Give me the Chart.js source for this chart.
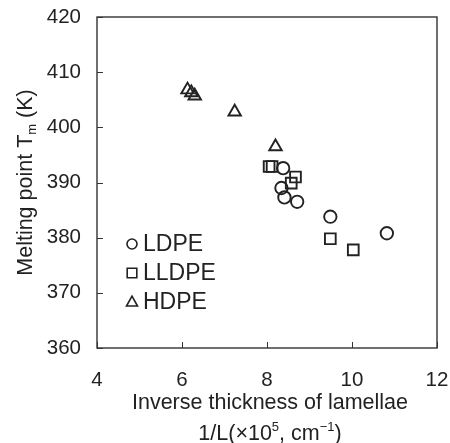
<!DOCTYPE html>
<html>
<head>
<meta charset="utf-8">
<script src="https://cdn.jsdelivr.net/npm/chart.js@4/dist/chart.umd.min.js"></script>
<style>
  html, body { margin: 0; padding: 0; background: #fff; }
  #wrap { width: 450px; height: 443px; }
</style>
</head>
<body>
<div id="wrap"><canvas id="mp-chart" width="450" height="443"></canvas></div>
<script>
// Melting point vs inverse lamellar thickness
const ldpeX = [8.38, 8.34, 8.41, 8.71, 9.49, 10.82];
const ldpeY = [392.6, 389.0, 387.3, 386.5, 383.8, 380.8];

const lldpeX = [8.05, 8.12, 8.57, 8.67, 9.49, 10.03];
const lldpeY = [392.9, 392.9, 389.9, 391.0, 379.8, 377.8];

const hdpeX = [6.13, 6.22, 6.30, 7.24, 8.20];
const hdpeY = [406.8, 406.3, 405.7, 402.8, 396.5];

const seriesNames = ["LDPE", "LLDPE", "HDPE"];
const xTicks = [4, 6, 8, 10, 12];
const yTicks = [360, 370, 380, 390, 400, 410, 420];

const ink = "#222";
const fam = "'Liberation Sans', Arial, sans-serif";

function toPoints(xs, ys) {
  return xs.map((x, i) => ({ x: x, y: ys[i] }));
}

const markerStyle = {
  backgroundColor: "rgba(255,255,255,0)",
  borderColor: ink,
  borderWidth: 1.9,
};

const mpData = {
  datasets: [
    { label: seriesNames[0], data: toPoints(ldpeX, ldpeY), pointStyle: "circle", pointRadius: 6.2, ...markerStyle },
    { label: seriesNames[1], data: toPoints(lldpeX, lldpeY), pointStyle: "rect", pointRadius: 7.6, ...markerStyle },
    { label: seriesNames[2], data: toPoints(hdpeX, hdpeY), pointStyle: "triangle", pointRadius: 7.2, ...markerStyle },
  ],
};

function drawMarker(ctx, style, x, y, r) {
  ctx.beginPath();
  if (style === "circle") {
    ctx.arc(x, y, r, 0, Math.PI * 2);
  } else if (style === "rect") {
    ctx.rect(x - r, y - r, r * 2, r * 2);
  } else {
    ctx.moveTo(x, y - r);
    ctx.lineTo(x + r * 0.95, y + r * 0.7);
    ctx.lineTo(x - r * 0.95, y + r * 0.7);
    ctx.closePath();
  }
  ctx.stroke();
}

// frame, inward ticks, axis titles and the inset legend
const framePlugin = {
  id: "frame",
  afterDraw(chart) {
    const ctx = chart.ctx;
    const a = chart.chartArea;
    const xs = chart.scales.x;
    const ys = chart.scales.y;
    ctx.save();
    ctx.strokeStyle = "#333";
    ctx.lineWidth = 1.4;
    ctx.strokeRect(a.left, a.top, a.right - a.left, a.bottom - a.top);

    ctx.lineWidth = 1;
    xTicks.forEach((v) => {
      const px = Math.round(xs.getPixelForValue(v)) + 0.5;
      ctx.beginPath();
      ctx.moveTo(px, a.bottom);
      ctx.lineTo(px, a.bottom - 6);
      ctx.stroke();
    });
    yTicks.forEach((v) => {
      const py = Math.round(ys.getPixelForValue(v)) + 0.5;
      ctx.beginPath();
      ctx.moveTo(a.left, py);
      ctx.lineTo(a.left + 6, py);
      ctx.stroke();
    });

    // x title, two lines
    ctx.fillStyle = ink;
    ctx.textBaseline = "alphabetic";
    const big = "21.5px " + fam;
    const small = "13px " + fam;
    const cx = (a.left + a.right) / 2 + 3;
    ctx.font = big;
    ctx.textAlign = "center";
    ctx.fillText("Inverse thickness of lamellae", cx, 409);

    const parts = [
      ["1/L(\u00d710", big, 0],
      ["5", small, -9],
      [", cm", big, 0],
      ["\u22121", small, -9],
      [")", big, 0],
    ];
    let total = 0;
    parts.forEach((p) => { ctx.font = p[1]; total += ctx.measureText(p[0]).width; });
    let x0 = cx - total / 2;
    ctx.textAlign = "left";
    parts.forEach((p) => {
      ctx.font = p[1];
      ctx.fillText(p[0], x0, 440 + p[2]);
      x0 += ctx.measureText(p[0]).width;
    });

    // y title, rotated, with subscript m
    const yparts = [
      ["Melting point T", big, 0],
      ["m", small, 4],
      [" (K)", big, 0],
    ];
    let ytot = 0;
    yparts.forEach((p) => { ctx.font = p[1]; ytot += ctx.measureText(p[0]).width; });
    ctx.translate(32, (a.top + a.bottom) / 2);
    ctx.rotate(-Math.PI / 2);
    let y0 = -ytot / 2;
    yparts.forEach((p) => {
      ctx.font = p[1];
      ctx.fillText(p[0], y0, p[2]);
      y0 += ctx.measureText(p[0]).width;
    });
    ctx.restore();

    // legend inside the plot
    ctx.save();
    ctx.strokeStyle = ink;
    ctx.lineWidth = 1.6;
    ctx.fillStyle = ink;
    ctx.font = "23px " + fam;
    ctx.textAlign = "left";
    ctx.textBaseline = "middle";
    const styles = ["circle", "rect", "triangle"];
    const sizes = [5, 4.8, 5.8];
    const rows = [244, 273, 302];
    seriesNames.forEach((name, i) => {
      drawMarker(ctx, styles[i], 132, rows[i], sizes[i]);
      ctx.fillText(name, 143, rows[i] + 1);
    });
    ctx.restore();
  },
};

const mpConfig = {
  type: "scatter",
  data: mpData,
  options: {
    responsive: false,
    animation: false,
    layout: { padding: { top: 17, right: 13, left: 0, bottom: 0 } },
    plugins: {
      legend: { display: false },
      tooltip: { enabled: false },
    },
    scales: {
      x: {
        type: "linear",
        min: 4,
        max: 12,
        afterFit: (s) => { s.height = 95; s.paddingLeft = 0; s.paddingRight = 0; },
        afterBuildTicks: (s) => { s.ticks = xTicks.map((v) => ({ value: v })); },
        grid: { display: false, drawTicks: false },
        border: { display: false },
        ticks: { color: ink, font: { family: fam, size: 20.5 }, padding: 20, maxRotation: 0 },
      },
      y: {
        type: "linear",
        min: 360,
        max: 420,
        afterFit: (s) => { s.width = 97; s.paddingTop = 0; s.paddingBottom = 0; },
        afterBuildTicks: (s) => { s.ticks = yTicks.map((v) => ({ value: v })); },
        grid: { display: false, drawTicks: false },
        border: { display: false },
        ticks: { color: ink, font: { family: fam, size: 20.5 }, padding: 16 },
      },
    },
  },
  plugins: [framePlugin],
};

const mpChart = new Chart(document.getElementById("mp-chart"), mpConfig);
</script>
</body>
</html>
